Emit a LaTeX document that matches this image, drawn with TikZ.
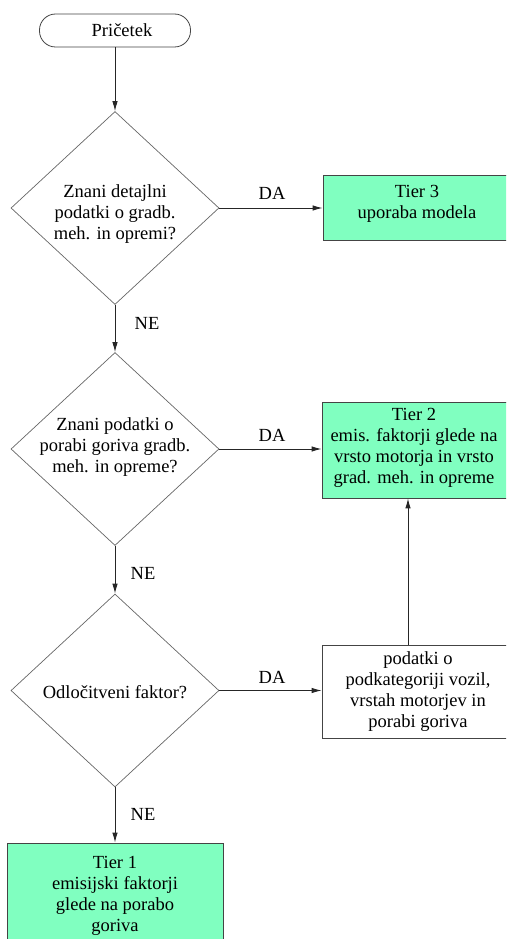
\documentclass[tikz,border=0pt]{standalone}
\usepackage{fontspec}
\setmainfont{Liberation Serif}
\usetikzlibrary{shapes.geometric,arrows.meta}
\definecolor{tiergreen}{HTML}{80FFC0}
\definecolor{edgegrey}{HTML}{666666}
\definecolor{boxline}{HTML}{444444}
\tikzset{
  txt/.style={font=\fontsize{18.5}{21}\selectfont, align=center, inner sep=0pt},
  dec/.style={diamond, draw=edgegrey, line width=0.7pt, minimum width=208pt, minimum height=193pt, inner sep=0pt},
  tierbox/.style={rectangle, draw=boxline, line width=0.8pt, fill=tiergreen, inner sep=0pt},
  plainbox/.style={rectangle, draw=boxline, line width=0.8pt, fill=white, inner sep=0pt},
  conn/.style={draw=black!85, line width=0.9pt, -{Latex[length=10pt,width=5.5pt]}},
  lbl/.style={font=\fontsize{18.5}{21}\selectfont, inner sep=0pt}
}
\begin{document}
\begin{tikzpicture}[x=1pt,y=-1pt]
\useasboundingbox (0,0) rectangle (506,939);
\clip (0,0) rectangle (506,939);
% start
\node[rectangle, rounded corners=16pt, draw=boxline, line width=0.8pt, minimum width=151pt, minimum height=33pt, inner sep=0pt] (start) at (115,30.5) {};
\node[txt] (starttxt) at (122,30) {Pričetek};
% decisions
\node[dec] (d1) at (115,208) {};
\node[txt] (d1t) at (115,214) {Znani detajlni\\podatki o gradb.\\meh. in opremi?};
\node[dec] (d2) at (115,449) {};
\node[txt] (d2t) at (115,447) {Znani podatki o\\porabi goriva gradb.\\meh. in opreme?};
\node[dec] (d3) at (115,690.5) {};
\node[txt] (d3t) at (115,692) {Odločitveni faktor?};
% boxes
\node[tierbox, minimum width=188pt, minimum height=65pt] (t3) at (417,207.5) {};
\node[txt] (t3t) at (417,204) {Tier 3\\uporaba modela};
\node[tierbox, minimum width=188pt, minimum height=96pt] (t2) at (416,450) {};
\node[txt] (t2t) at (414,448) {Tier 2\\emis. faktorji glede na\\vrsto motorja in vrsto\\grad. meh. in opreme};
\node[plainbox, minimum width=188pt, minimum height=93pt] (pod) at (416,691.5) {};
\node[txt] (podt) at (418,692) {podatki o\\podkategoriji vozil,\\vrstah motorjev in\\porabi goriva};
\node[tierbox, minimum width=216pt, minimum height=100pt] (t1) at (115,893) {};
\node[txt] (t1t) at (115,896) {Tier 1\\emisijski faktorji\\glede na porabo\\goriva};
% connectors
\coordinate (upx) at (408,0);
\draw[conn] (start.south) -- (d1.north);
\draw[conn] (d1.south) -- (d2.north);
\draw[conn] (d2.south) -- (d3.north);
\draw[conn] (d3.south) -- (t1.north);
\draw[conn] (d1.east) -- (d1.east -| t3.west);
\draw[conn] (d2.east) -- (d2.east -| t2.west);
\draw[conn] (d3.east) -- (d3.east -| pod.west);
\draw[conn] (pod.north -| upx) -- (t2.south -| upx);
% labels
\node[lbl] (da1) at (272,193) {DA};
\node[lbl] (da2) at (272,435) {DA};
\node[lbl] (da3) at (272,677) {DA};
\node[lbl] (ne1) at (147,323) {NE};
\node[lbl] (ne2) at (143,573) {NE};
\node[lbl] (ne3) at (143,814) {NE};
\end{tikzpicture}
\end{document}
